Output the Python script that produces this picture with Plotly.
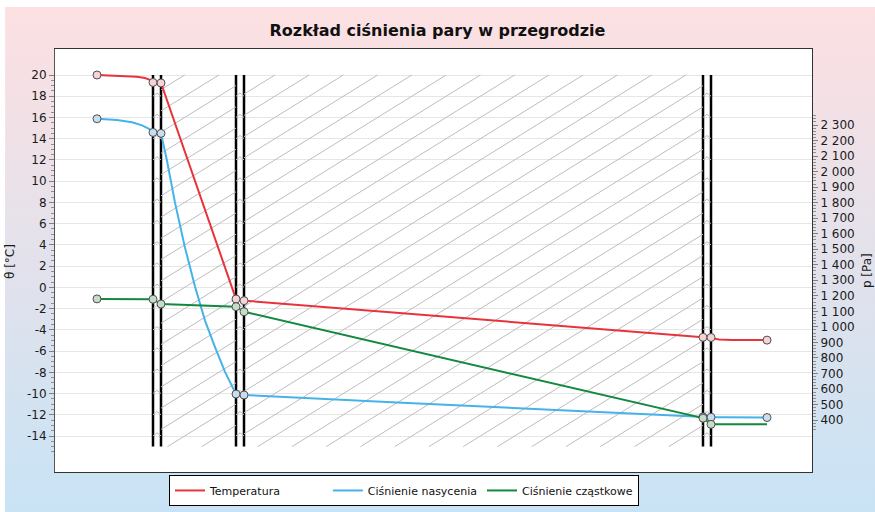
import base64
import plotly.graph_objects as go

# położenie w przegrodzie (jednostki umowne, 0 = powietrze wewnętrzne)
wezly = [0, 56, 64, 139, 147, 606, 614, 670]
granice = [56, 64, 139, 147, 606, 614]

# temperatura [°C]
temp_x = [0, 20, 40, 48, 53, 56, 64, 139, 147, 606, 614, 617, 622, 635, 670]
temp_y = [20.0, 19.93, 19.83, 19.72, 19.55, 19.3, 19.25, -1.1, -1.25, -4.7, -4.72, -4.83, -4.9, -4.95, -4.97]

# ciśnienie nasycenia [Pa]
nas_x = [0, 20, 35, 45, 52, 56, 64, 70, 78, 88, 98, 108, 118, 128, 139, 147, 300, 450, 606, 614, 625, 670]
nas_y = [2340, 2332, 2318, 2298, 2275, 2252, 2246, 2070, 1800, 1510, 1260, 1040, 870, 710, 567, 561, 512, 465, 420, 418, 417, 416]

# ciśnienie cząstkowe [Pa]
cz_x = [0, 56, 64, 139, 147, 606, 614, 670]
cz_y = [1180, 1178, 1147, 1130, 1097, 412, 372, 372]

lewe_ticki = list(range(20, -16, -2))
prawe_ticki = list(range(2300, 300, -100))

FONT = "DejaVu Sans"
NBSP = "\u00a0"


def fmt_pa(v):
    return f"{v:,}".replace(",", " ")


def hatch(xa, xb, ya, yb, k, step):
    xs, ys = [], []
    c = ya - k * xb
    while c < yb - k * xa:
        x0 = max(xa, (ya - c) / k)
        x1 = min(xb, (yb - c) / k)
        if x0 < x1:
            xs += [x0, x1, None]
            ys += [c + k * x0, c + k * x1, None]
        c += step
    return xs, ys


def chevrons(b0, b1, ya, yb, h, step):
    xs, ys = [], []
    t = ya + step / 2
    while t < yb - h:
        xs += [b0, (b0 + b1) / 2, b1, None]
        ys += [t, t + h, t, None]
        t += step
    return xs, ys


fig = go.Figure()

# kreskowanie warstw
k = 0.62 / 10.618
hx, hy = [], []
for a, b in [(64, 139), (147, 606)]:
    xs, ys = hatch(a, b, -15, 20, k, 2.0)
    hx += xs
    hy += ys
for a, b in [(56, 64), (139, 147), (606, 614)]:
    xs, ys = chevrons(a, b, -15, 20, 0.3, 2.0)
    hx += xs
    hy += ys
fig.add_trace(go.Scatter(x=hx, y=hy, mode="lines", line=dict(color="#bdbdbd", width=1),
                         hoverinfo="skip", showlegend=False))

fig.add_trace(go.Scatter(x=temp_x, y=temp_y, mode="lines", name="Temperatura" + NBSP * 12,
                         line=dict(color="#e8333b", width=2)))
fig.add_trace(go.Scatter(x=nas_x, y=nas_y, mode="lines", name="Ciśnienie nasycenia",
                         line=dict(color="#45b3e7", width=2), yaxis="y2"))
fig.add_trace(go.Scatter(x=cz_x, y=cz_y, mode="lines", name="Ciśnienie cząstkowe",
                         line=dict(color="#13883f", width=2), yaxis="y2"))


def nodes(xs, ys, keep):
    px = [x for x in xs if x in keep]
    py = [y for x, y in zip(xs, ys) if x in keep]
    return px, py


mk = dict(size=8, line=dict(color="#505050", width=1))
px, py = nodes(temp_x, temp_y, wezly)
fig.add_trace(go.Scatter(x=px, y=py, mode="markers", showlegend=False,
                         marker=dict(color="#f6d3d5", **mk)))
px, py = nodes(nas_x, nas_y, wezly)
fig.add_trace(go.Scatter(x=px, y=py, mode="markers", showlegend=False, yaxis="y2",
                         marker=dict(color="#c6def0", **mk)))
px, py = nodes(cz_x, cz_y, wezly[:-1])
fig.add_trace(go.Scatter(x=px, y=py, mode="markers", showlegend=False, yaxis="y2",
                         marker=dict(color="#c5dcc9", **mk)))

# granice warstw
for b in granice:
    fig.add_shape(type="line", xref="x", yref="y", x0=b, x1=b, y0=-15, y1=20,
                  line=dict(color="black", width=2.5), layer="between")

# białe pole wykresu nad gradientem
fig.add_shape(type="rect", xref="paper", yref="paper", x0=0, x1=1, y0=0, y1=1,
              fillcolor="white", line=dict(width=0), layer="below")

svg = ('<svg xmlns="http://www.w3.org/2000/svg" width="10" height="100" preserveAspectRatio="none">'
       '<defs><linearGradient id="g" x1="0" y1="0" x2="0" y2="1">'
       '<stop offset="0" stop-color="#fde0e2"/><stop offset="1" stop-color="#c8e3f5"/>'
       '</linearGradient></defs><rect width="10" height="100" fill="url(#g)"/></svg>')
src = "data:image/svg+xml;base64," + base64.b64encode(svg.encode()).decode()
fig.add_layout_image(source=src, xref="paper", yref="paper", x=-0.066, y=1.0993,
                     sizex=1.16, sizey=1.195, sizing="stretch", xanchor="left",
                     yanchor="top", layer="below")

# opisy osi
fig.add_annotation(text="θ [°C]", xref="paper", yref="paper", x=-0.0594, y=0.4965,
                   textangle=-90, showarrow=False, xanchor="center", yanchor="middle",
                   font=dict(size=12, color="#1a1a1a"))
fig.add_annotation(text="p [Pa]", xref="paper", yref="paper", x=1.0727, y=0.475,
                   textangle=-90, showarrow=False, xanchor="center", yanchor="middle",
                   font=dict(size=12, color="#1a1a1a"))

fig.update_layout(
    width=875, height=512,
    margin=dict(l=55, r=63, t=49, b=40, autoexpand=False),
    paper_bgcolor="white", plot_bgcolor="white",
    font=dict(family=FONT, size=12, color="#1a1a1a"),
    title=dict(text="<b>Rozkład ciśnienia pary w przegrodzie</b>", x=0.5, xanchor="center",
               y=1 - 30 / 512, yanchor="middle", font=dict(size=16, color="#111111")),
    showlegend=True,
    legend=dict(orientation="h", x=404 / 875, xref="container", xanchor="center",
                y=-0.007, yanchor="top",
                bgcolor="white", bordercolor="black", borderwidth=1,
                font=dict(size=11, color="#111111")),
    xaxis=dict(range=[-42, 715], showgrid=False, zeroline=False, showticklabels=False,
               ticks="", showline=True, linecolor="#333333", linewidth=1, mirror=True),
    yaxis=dict(range=[-17.39, 22.449], tickvals=lewe_ticki,
               ticktext=[str(v) for v in lewe_ticki], automargin=False,
               showgrid=True, gridcolor="#e6e6e6", zeroline=False,
               ticks="outside", ticklen=5, tickcolor="#808080",
               minor=dict(tickvals=[v / 2 for v in range(-31, 41)], ticks="outside",
                          ticklen=3, tickcolor="#909090", showgrid=False),
               showline=True, linecolor="#555555", linewidth=1),
    yaxis2=dict(range=[65.1, 2789.5], overlaying="y", side="right", automargin=False,
                tickvals=prawe_ticki, ticktext=[fmt_pa(v) for v in prawe_ticki],
                showgrid=False, zeroline=False,
                ticks="outside", ticklen=5, tickcolor="#808080",
                minor=dict(tickvals=list(range(340, 2380, 20)), ticks="outside",
                           ticklen=3, tickcolor="#909090", showgrid=False),
                showline=True, linecolor="#333333", linewidth=1),
)

fig.write_html("out.html", config={"displayModeBar": False},
               post_script="document.body.style.margin='0';")
